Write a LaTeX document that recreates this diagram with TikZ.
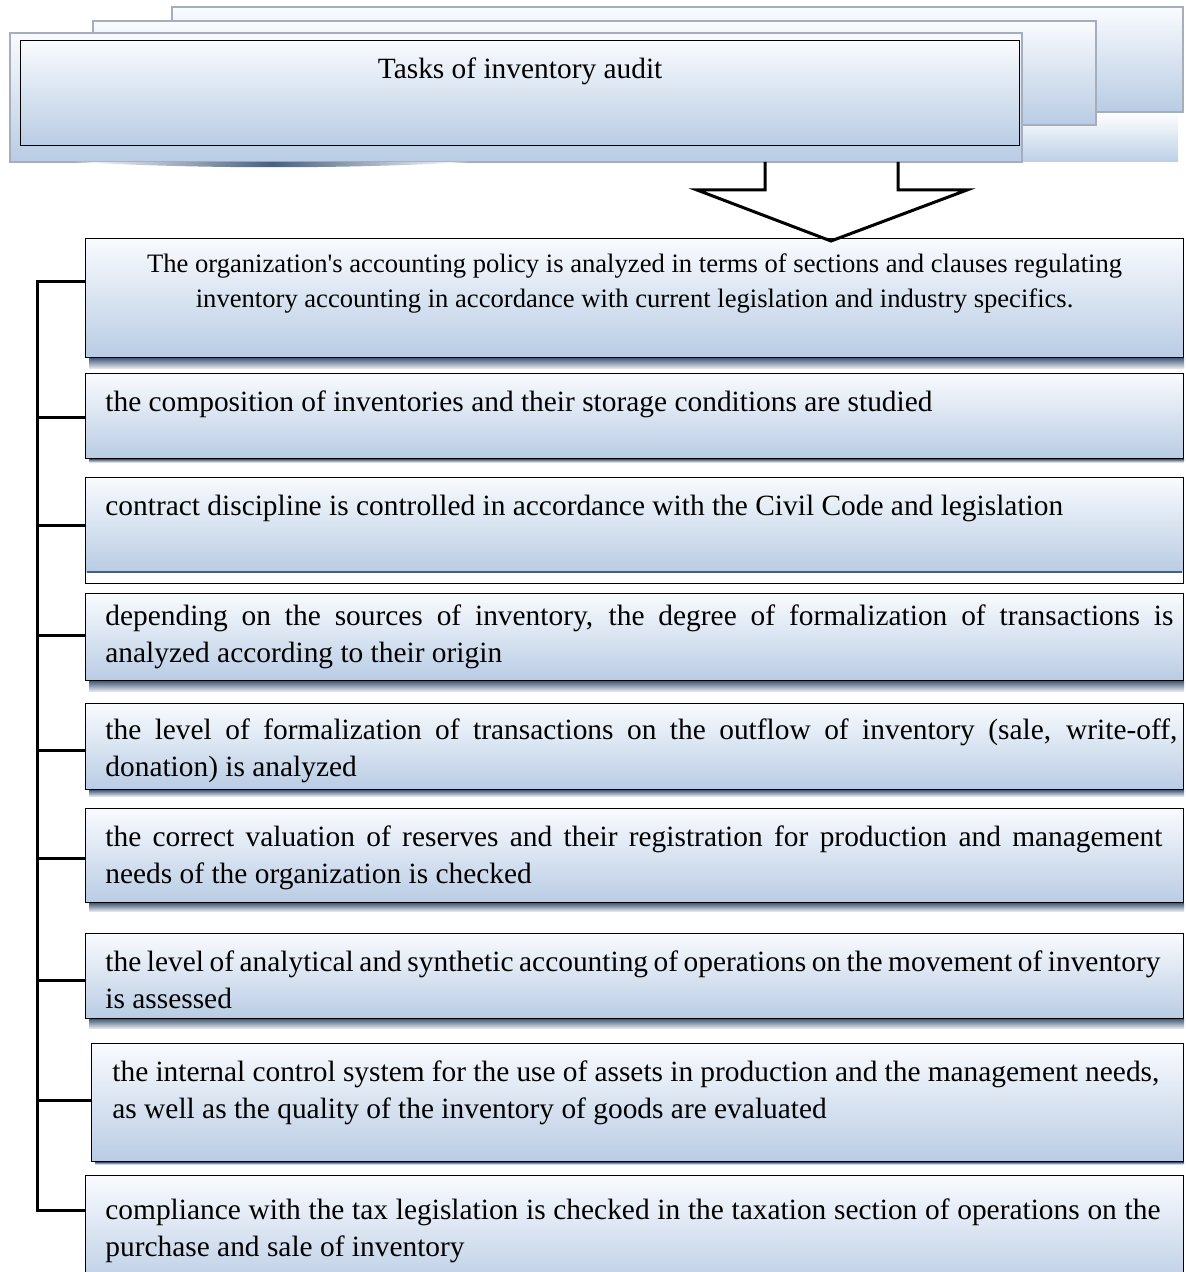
\documentclass[tikz,border=0pt]{standalone}
\usepackage{fontspec}
\setmainfont{Liberation Serif}
\usepackage{tikz}
\usetikzlibrary{positioning}

\definecolor{boxtop}{RGB}{249,251,254}
\definecolor{boxbot}{RGB}{185,204,228}
\definecolor{dropblue}{RGB}{72,96,126}
\definecolor{edgegray}{RGB}{165,174,186}
\definecolor{bandblue}{RGB}{188,207,230}

\begin{document}
\begin{tikzpicture}[x=0.5pt, y=-0.5pt, font=\fontsize{14.7}{18.5}\selectfont,
	frame/.style={draw=black, line width=0.6pt, anchor=north west, inner sep=0pt, minimum width=549pt},
	task/.style={frame, top color=boxtop, bottom color=boxbot},
	doc/.style={draw=edgegray, line width=1pt, top color=boxtop, bottom color=boxbot},
	txt/.style={anchor=north west, inner sep=0pt, text width=527.5pt, align=justify},
	link/.style={line width=1.5pt},
	hollow/.style={line width=1.5pt, line join=miter}]
	\useasboundingbox (0,0) rectangle (1186,1272);

	% stacked documents of the header
	\shade[top color=white, bottom color=bandblue] (980,112) rectangle (1178,162);
	\path[doc] (172,7) rectangle (1183,112);
	\path[doc] (93,21) rectangle (1096,125);
	\path[doc] (10,33) rectangle (1022,162);
	\node[task, minimum width=499.5pt, minimum height=52.5pt] (head) at (20,40) {};
	\node[inner sep=0pt, below=8.5pt of head.north] (headtxt) {Tasks of inventory audit};
	\shade[left color=white, right color=white, middle color=dropblue] (77,162) .. controls (200,169) and (350,169) .. (467,162) -- cycle;

	% task boxes
	\node[task, minimum height=59.5pt] (t1) at (85,238) {};
	\node[task, minimum height=42.5pt] (t2) at (85,373) {};
	\shade[top color=boxtop, bottom color=boxbot] (85,477) rectangle (1183,572);
	\draw[dropblue, line width=1pt] (87,572) -- (1182,572);
	\node[frame, minimum height=53pt] (t3) at (85,477) {};
	\node[task, minimum height=43.5pt] (t4) at (85,593) {};
	\node[task, minimum height=43pt] (t5) at (85,703) {};
	\node[task, minimum height=47pt] (t6) at (85,808) {};
	\node[task, minimum height=42.5pt] (t7) at (85,933) {};
	\node[task, minimum height=59pt, minimum width=546pt] (t8) at (91,1043) {};
	\node[task, minimum height=57.5pt] (t9) at (85,1175) {};

	\foreach \n/\d in {1/5,2/1.5,4/5,5/3,6/4,7/4.5,8/1}
		\shade[top color=dropblue, bottom color=dropblue!15] ([xshift=2pt]t\n.south west) rectangle ([yshift=-\d pt]t\n.south east);

	% texts
	\node[align=center, inner sep=0pt, font=\fontsize{13.3}{17.5}\selectfont, below=7.5pt of t1.north] (l1) {The organization\textquotesingle s accounting policy is analyzed in terms of sections and clauses regulating\\ inventory accounting in accordance with current legislation and industry specifics.};
	\node[txt, below right=8.5pt and 10pt of t2.north west] (l2) {the composition of inventories and their storage conditions are studied};
	\node[txt, below right=9pt and 10pt of t3.north west] (l3) {contract discipline is controlled in accordance with the Civil Code and legislation};
	\node[txt, text width=534pt, below right=5.5pt and 10pt of t4.north west] (l4) {depending on the sources of inventory, the degree of formalization of transactions is\linebreak analyzed according to their origin};
	\node[txt, text width=536pt, below right=7.5pt and 10pt of t5.north west] (l5) {the level of formalization of transactions on the outflow of inventory (sale, write-off,\linebreak donation) is analyzed};
	\node[txt, text width=528.5pt, below right=8.5pt and 10pt of t6.north west] (l6) {the correct valuation of reserves and their registration for production and management\linebreak needs of the organization is checked};
	\node[txt, text width=527.5pt, below right=8.5pt and 10pt of t7.north west] (l7) {the level of analytical and synthetic accounting of operations on the movement of inventory\linebreak is assessed};
	\node[txt, text width=523.5pt, below right=8.5pt and 10.5pt of t8.north west] (l8) {the internal control system for the use of assets in production and the management needs,\linebreak as well as the quality of the inventory of goods are evaluated};
	\node[txt, text width=527.5pt, below right=11.5pt and 10pt of t9.north west] (l9) {compliance with the tax legislation is checked in the taxation section of operations on the\linebreak purchase and sale of inventory};

	% big arrow from the header down to the first box
	\coordinate (arr) at (831,162);
	\coordinate (tip) at ([yshift=-1.5pt]arr |- t1.north);
	\draw[hollow] ([xshift=-33pt]arr) |- ([xshift=-67pt, yshift=-14pt]arr) -- (tip) -- ([xshift=68pt, yshift=-14pt]arr) -| ([xshift=33.5pt]arr);

	% bracket on the left
	\coordinate (top) at (37,282);
	\coordinate (bot) at (37,1210);
	\draw[link] (t1.west |- top) -- (top) -- (bot) -- (t9.west |- bot);
	\foreach \n/\y in {2/418,3/525,4/635,5/750,6/858,7/980,8/1100}
		\draw[link] (37,\y) -- (t\n.west |- 0,\y);
\end{tikzpicture}
\end{document}
